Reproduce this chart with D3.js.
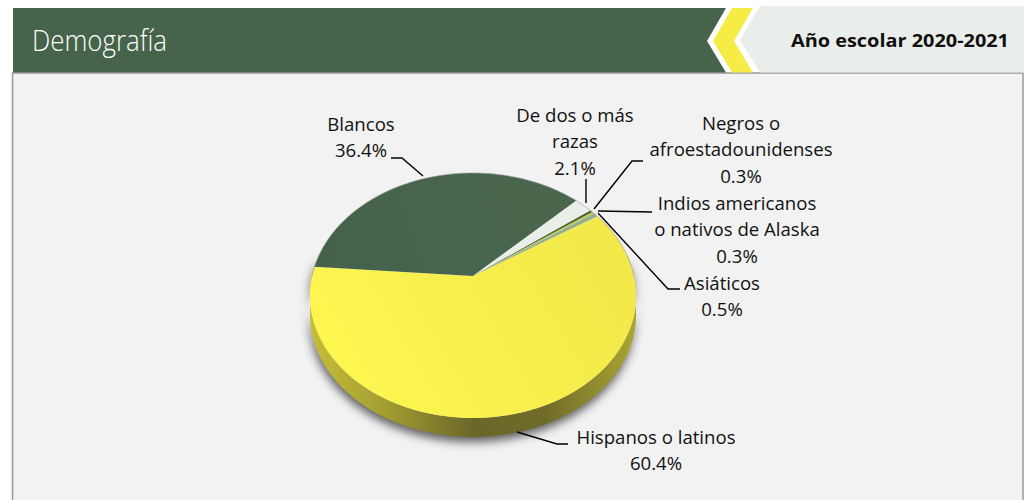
<!DOCTYPE html>
<html>
<head>
<meta charset="utf-8">
<script src="https://cdn.jsdelivr.net/npm/d3@7"></script>
<style>
  html, body { margin: 0; padding: 0; background: white; }
  svg { display: block; }
  text { font-family: "Open Sans", sans-serif; }
</style>
</head>
<body>
<div id="container"></div>
<script>
let w = 1024;
let h = 500;

// chart data
let categories = ["Hispanos o latinos", "Blancos", "De dos o más razas", "Negros o afroestadounidenses", "Indios americanos o nativos de Alaska", "Asiáticos"];
let values = [60.4, 36.4, 2.1, 0.3, 0.3, 0.5];
let valueLabels = ["60.4%", "36.4%", "2.1%", "0.3%", "0.3%", "0.5%"];
let labelLines = [
  ["Hispanos o latinos"],
  ["Blancos"],
  ["De dos o más", "razas"],
  ["Negros o", "afroestadounidenses"],
  ["Indios americanos", "o nativos de Alaska"],
  ["Asiáticos"]
];
let sliceColors = ["url(#yellowTop)", "url(#greenTop)", "#e9eee9", "#4a5a30", "#b9c94f", "#8fae94"];

// where each label sits, and how its leader line runs after leaving the pie
let labelPos = [
  {x: 656, y: 437, line: [[557, 444], [568, 444]], edge: [517, 432]},
  {x: 361, y: 124, line: [[402, 158], [391, 158]], edge: [423, 176]},
  {x: 575, y: 115, line: [[586, 179]], edge: [586, 203]},
  {x: 741, y: 123, line: [[632, 161], [643, 161]], edge: [594, 209]},
  {x: 737, y: 203, line: [[652, 212]], edge: [598, 211]},
  {x: 722, y: 283, line: [[668, 289], [680, 289]], edge: [598, 213]}
];

let viz = d3.select("#container")
  .append("svg")
    .attr("width", w)
    .attr("height", h)
    .style("background-color", "white")
;

let defs = viz.append("defs");

function addLinear(id, stops, x1, y1, x2, y2){
  let g = defs.append("linearGradient")
    .attr("id", id)
    .attr("gradientUnits", "userSpaceOnUse")
    .attr("x1", x1).attr("y1", y1).attr("x2", x2).attr("y2", y2);
  stops.forEach(function(s){
    g.append("stop").attr("offset", s[0]).attr("stop-color", s[1]);
  });
}
addLinear("yellowTop", [[0, "#fff850"], [0.45, "#f8ef4c"], [1, "#f2e84a"]], 330, 400, 620, 230);
addLinear("greenTop", [[0, "#44624a"], [1, "#4a674e"]], 320, 270, 580, 180);
addLinear("side", [[0, "#c4bd38"], [0.2, "#a8a232"], [0.5, "#6b6729"], [0.72, "#6f6b2a"], [1, "#aca631"]], 312, 0, 636, 0);

defs.append("filter").attr("id", "blur")
  .attr("x", "-20%").attr("y", "-20%").attr("width", "140%").attr("height", "140%")
  .append("feGaussianBlur").attr("stdDeviation", 5);

// panel + header
viz.append("rect").attr("x", 13).attr("y", 73).attr("width", 1009).attr("height", 427).attr("fill", "#f2f2f2");
viz.append("path").attr("d", "M12.5,500V73H1023V500").attr("fill", "none").attr("stroke", "#999999").attr("stroke-width", 1.5);

viz.append("polygon").attr("points", "760,6 1024,6 1024,72.5 760,72.5 740,40").attr("fill", "#eaeeeb");
viz.append("polygon").attr("points", "13,8 726,8 707,41 726,72.5 13,72.5").attr("fill", "#46644b");
viz.append("polygon").attr("points", "732,8 753,8 734,41 753,72.5 732,72.5 713,41").attr("fill", "#f5ec45");

viz.append("text").attr("x", 32).attr("y", 51)
  .attr("font-size", 29).attr("font-weight", 300).attr("fill", "#ffffff")
  .attr("textLength", 135).attr("lengthAdjust", "spacingAndGlyphs")
  .text("Demografía");
viz.append("text").attr("x", 791).attr("y", 47)
  .attr("font-size", 18).attr("font-weight", 700).attr("fill", "#111111")
  .attr("textLength", 218).attr("lengthAdjust", "spacingAndGlyphs")
  .text("Año escolar 2020-2021");

// tilted disc: a circle seen in perspective, so the centre sits above the middle of the ellipse
let cx = 473;
let cy = 276;
let rX = 161;
let rY = 119.4;
let tilt = 0.159;
let depth = 19;

function project(a){
  let u = Math.sin(a);
  let v = -Math.cos(a);
  let k = 1 - tilt * v;
  return [cx + rX * u / k, cy + rY * v / k];
}
function arcPoints(a0, a1){
  let n = Math.max(2, Math.ceil(Math.abs(a1 - a0) / 0.02));
  return d3.range(n + 1).map(function(i){
    return project(a0 + (a1 - a0) * i / n);
  });
}

let line = d3.line();
let startDeg = 57;
let pie = d3.pie()
  .sort(null)
  .startAngle(startDeg * Math.PI / 180)
  .endAngle((startDeg + 360) * Math.PI / 180);
let slices = pie(values);

let rimFront = arcPoints(80 * Math.PI / 180, 280 * Math.PI / 180);
let rimBack = rimFront.map(function(p){ return [p[0], p[1] + depth]; }).reverse();

// soft shadow under the disc
viz.append("path")
  .attr("d", line(rimFront.concat(rimBack)) + "Z")
  .attr("transform", "translate(-1, 5)")
  .attr("fill", "#444444")
  .attr("opacity", 0.85)
  .attr("filter", "url(#blur)");

// side wall
viz.append("path")
  .attr("d", line(rimFront.concat(rimBack)) + "Z")
  .attr("fill", "url(#side)");

// top face
viz.append("g").selectAll("path").data(slices).enter()
  .append("path")
    .attr("d", function(d){
      return line([[cx, cy]].concat(arcPoints(d.startAngle, d.endAngle))) + "Z";
    })
    .attr("fill", function(d, i){ return sliceColors[i]; })
;

// faint grey outline on the far edge of the disc
viz.append("path")
  .attr("d", line(arcPoints(-90 * Math.PI / 180, 90 * Math.PI / 180)))
  .attr("fill", "none")
  .attr("stroke", "#999999")
  .attr("stroke-opacity", 0.6)
  .attr("stroke-width", 1)
;

// leader lines
viz.append("g").selectAll("path").data(labelPos).enter()
  .append("path")
    .attr("d", function(d){ return line([d.edge].concat(d.line)); })
    .attr("fill", "none")
    .attr("stroke", "black")
    .attr("stroke-width", 1.4)
;

// labels
let labelGroups = viz.append("g").selectAll("text").data(categories).enter()
  .append("text")
    .attr("text-anchor", "middle")
    .attr("font-size", 18.6)
    .attr("fill", "#111111")
;
labelGroups.each(function(d, i){
  let t = d3.select(this);
  let rows = labelLines[i].concat([valueLabels[i]]);
  rows.forEach(function(row, j){
    t.append("tspan")
      .attr("x", labelPos[i].x)
      .attr("y", labelPos[i].y + j * 26.8 + 6.5)
      .text(row);
  });
});
</script>
</body>
</html>
